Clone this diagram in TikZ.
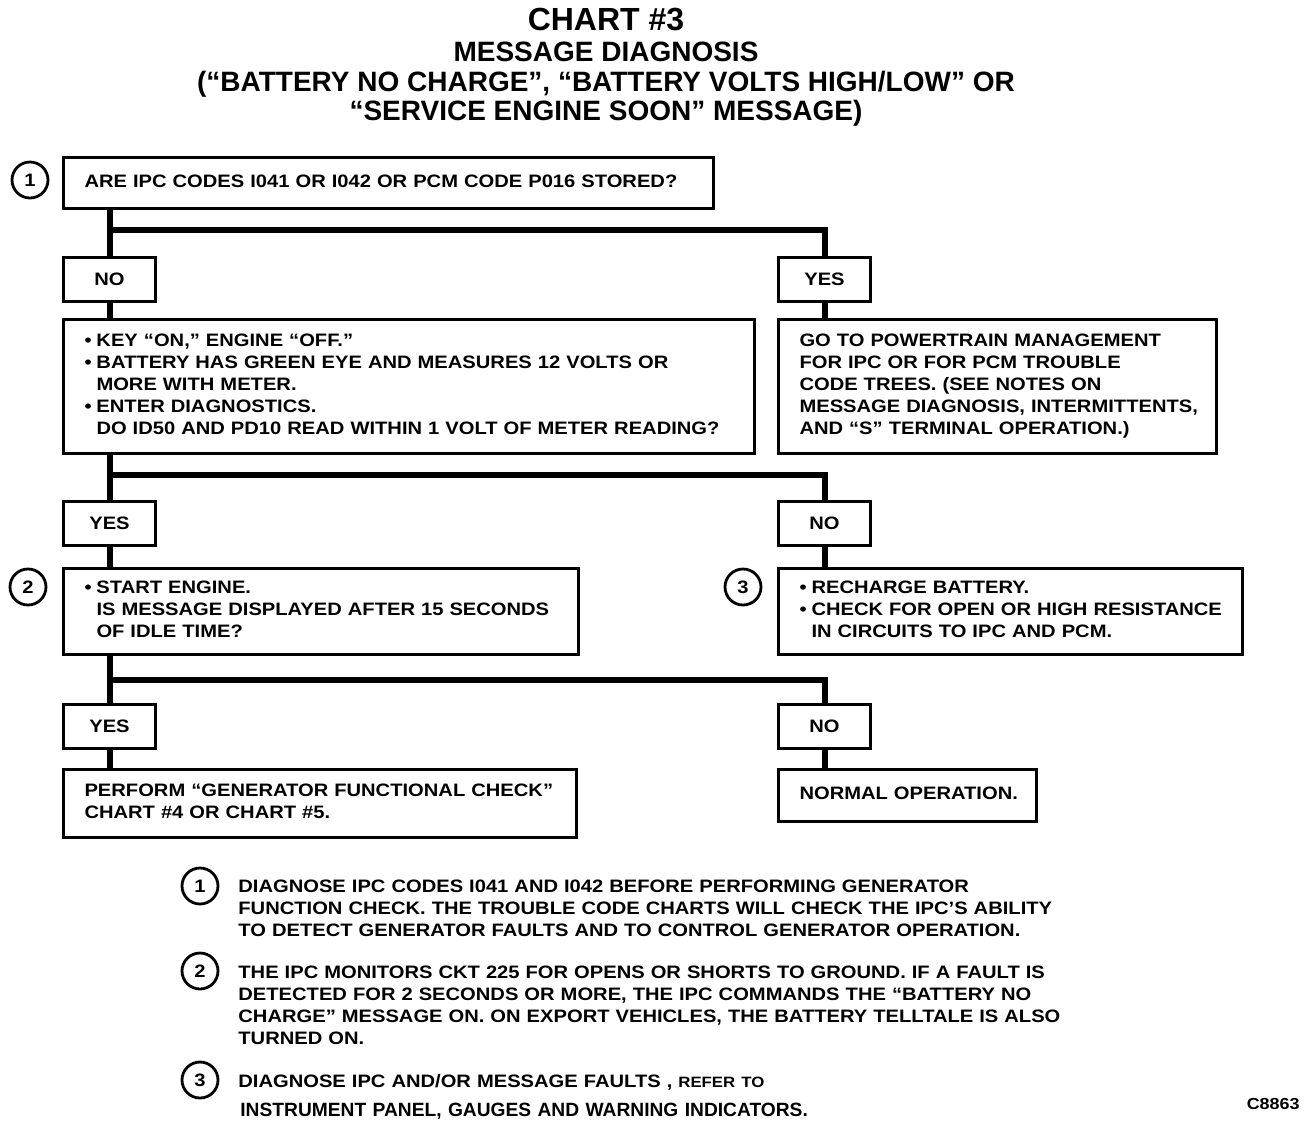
\documentclass[tikz,border=0pt]{standalone}
\usepackage{fontspec}
\setmainfont{Liberation Sans}
\newfontfamily\bodyfont[FakeStretch=1.12]{Liberation Sans}
\newcommand{\boxfont}{\bodyfont\bfseries\fontsize{9}{11}\selectfont}
\newcommand{\bul}{\makebox[6pt][l]{•}}
\newcommand{\hang}{\hspace*{6pt}}
\newcommand{\lines}[1]{\begin{tabular}{@{}l@{}}#1\end{tabular}}

\begin{document}
\begin{tikzpicture}[x=0.5pt,y=-0.5pt,
    box/.style={draw,line width=1.5pt,anchor=north west,align=left,inner xsep=10.5pt,inner ysep=0pt,font=\boxfont},
    ans/.style={draw,line width=1.5pt,anchor=north west,minimum width=46pt,minimum height=22pt,inner sep=0pt,font=\boxfont},
    tag/.style={circle,draw,line width=1.4pt,minimum size=18pt,inner sep=0pt,font=\boxfont},
    wire/.style={line width=3pt},
    ttl/.style={anchor=base,font=\bfseries\fontsize{14}{15}\selectfont},
    note/.style={anchor=base west,align=left,inner sep=0pt,text width=430pt,font=\boxfont}]
            \useasboundingbox (0,0) rectangle (1312,1126);
            % title
            \node[ttl,font=\bfseries\fontsize{16}{18}\selectfont] (t1) at (606,30) {CHART \#3};
            \node[ttl] (t2) at (606,61) {MESSAGE DIAGNOSIS};
            \node[ttl] (t3) at (606,91) {(“BATTERY NO CHARGE”, “BATTERY VOLTS HIGH/LOW” OR};
            \node[ttl] (t4) at (606,120) {“SERVICE ENGINE SOON” MESSAGE)};
            % boxes
            \node[box,text width=304pt,minimum height=25.5pt] (codes) at (62,156) {\lines{ARE IPC CODES I041 OR I042 OR PCM CODE P016 STORED?}};
            \node[tag] (c1) at (30,180) {1};
            \node[ans] (no1) at (62,256) {NO};
            \node[ans] (yes1) at (777,256) {YES};
            \node[box,text width=324.5pt,minimum height=67pt] (volts) at (62,318) {\lines{\bul KEY “ON,” ENGINE “OFF.”\\ \bul BATTERY HAS GREEN EYE AND MEASURES 12 VOLTS OR\\ \hang MORE WITH METER.\\ \bul ENTER DIAGNOSTICS.\\ \hang DO ID50 AND PD10 READ WITHIN 1 VOLT OF METER READING?}};
            \node[box,text width=198pt,minimum height=67pt] (ptm) at (777,318) {\lines{GO TO POWERTRAIN MANAGEMENT\\ FOR IPC OR FOR PCM TROUBLE\\ CODE TREES. (SEE NOTES ON\\ MESSAGE DIAGNOSIS, INTERMITTENTS,\\ AND “S” TERMINAL OPERATION.)}};
            \node[ans] (yes2) at (62,500) {YES};
            \node[ans] (no2) at (777,500) {NO};
            \node[box,text width=236.5pt,minimum height=43pt] (idle) at (62,567) {\lines{\bul START ENGINE.\\ \hang IS MESSAGE DISPLAYED AFTER 15 SECONDS\\ \hang OF IDLE TIME?}};
            \node[tag] (c2) at (28,587) {2};
            \node[box,text width=211pt,minimum height=43pt] (chrg) at (777,567) {\lines{\bul RECHARGE BATTERY.\\ \bul CHECK FOR OPEN OR HIGH RESISTANCE\\ \hang IN CIRCUITS TO IPC AND PCM.}};
            \node[tag] (c3) at (743,587) {3};
            \node[ans] (yes3) at (62,703) {YES};
            \node[ans] (no3) at (777,703) {NO};
            \node[box,text width=235.5pt,minimum height=34pt] (gen) at (62,768) {\lines{PERFORM “GENERATOR FUNCTIONAL CHECK”\\ CHART \#4 OR CHART \#5.}};
            \node[box,text width=108pt,minimum height=26pt] (norm) at (777,768) {\lines{NORMAL OPERATION.}};
            % branch points
            \coordinate (br1) at (108,230);
            \coordinate (br2) at (108,475);
            \coordinate (br3) at (108,680);
            % connectors
            \draw[wire] (codes.south -| no1.north) -- (no1.north);
            \draw[wire] (br1) -- (br1 -| yes1.north) -- (yes1.north);
            \draw[wire] (no1.south) -- (volts.north -| no1.south);
            \draw[wire] (yes1.south) -- (ptm.north -| yes1.south);
            \draw[wire] (volts.south -| yes2.north) -- (yes2.north);
            \draw[wire] (br2) -- (br2 -| no2.north) -- (no2.north);
            \draw[wire] (yes2.south) -- (idle.north -| yes2.south);
            \draw[wire] (no2.south) -- (chrg.north -| no2.south);
            \draw[wire] (idle.south -| yes3.north) -- (yes3.north);
            \draw[wire] (br3) -- (br3 -| no3.north) -- (no3.north);
            \draw[wire] (yes3.south) -- (gen.north -| yes3.south);
            \draw[wire] (no3.south) -- (norm.north -| no3.south);
            % notes
            \node[tag] (n1) at (200,886) {1};
            \node[note] (note1) at (238,892) {DIAGNOSE IPC CODES I041 AND I042 BEFORE PERFORMING GENERATOR\\ FUNCTION CHECK. THE TROUBLE CODE CHARTS WILL CHECK THE IPC’S ABILITY\\ TO DETECT GENERATOR FAULTS AND TO CONTROL GENERATOR OPERATION.};
            \node[tag] (n2) at (200,971) {2};
            \node[note] (note2) at (238,978) {THE IPC MONITORS CKT 225 FOR OPENS OR SHORTS TO GROUND. IF A FAULT IS\\ DETECTED FOR 2 SECONDS OR MORE, THE IPC COMMANDS THE “BATTERY NO\\ CHARGE” MESSAGE ON. ON EXPORT VEHICLES, THE BATTERY TELLTALE IS ALSO\\ TURNED ON.};
            \node[tag] (n3) at (200,1080) {3};
            \node[note] (note3) at (238,1087) {DIAGNOSE IPC AND/OR MESSAGE FAULTS , {\fontsize{7.5}{9}\selectfont REFER TO}};
            \node[note,font=\bfseries\fontsize{9.6}{11}\selectfont] (note3b) at (240,1116) {INSTRUMENT PANEL, GAUGES AND WARNING INDICATORS.};
            \node[anchor=base east,inner sep=0pt,font=\bodyfont\bfseries\fontsize{8}{9}\selectfont] (fig) at (1300,1109) {C8863};
        \end{tikzpicture}
\end{document}
